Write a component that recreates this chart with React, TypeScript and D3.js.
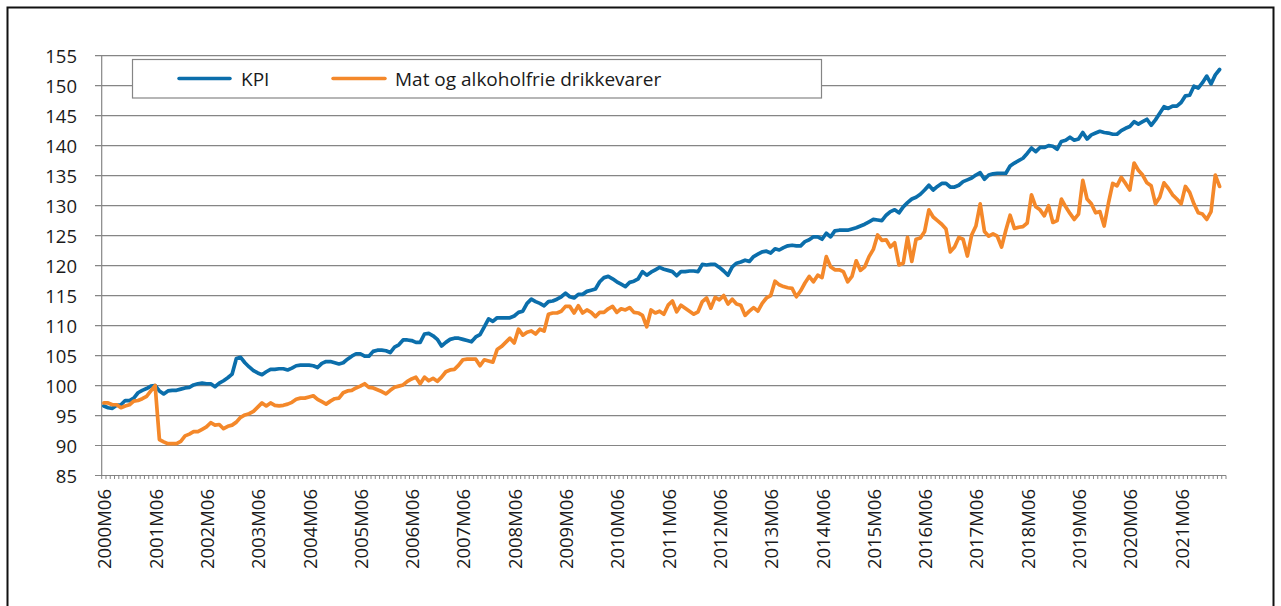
import React from 'react';
import * as d3 from 'd3';

// Monthly categories 2000M06 .. 2022M04 (axis categories)
const categories: string[] = (() => {
  const a: string[] = [];
  for (let k = 0; k < 263; k++) {
    const t = 5 + k;
    const yr = 2000 + Math.floor(t / 12);
    const m = (t % 12) + 1;
    a.push(`${yr}M${String(m).padStart(2, '0')}`);
  }
  return a;
})();

const tickLabels: string[] = [
  '2000M06', '2001M06', '2002M06', '2003M06', '2004M06', '2005M06', '2006M06', '2007M06',
  '2008M06', '2009M06', '2010M06', '2011M06', '2012M06', '2013M06', '2014M06', '2015M06',
  '2016M06', '2017M06', '2018M06', '2019M06', '2020M06', '2021M06',
];

const yTicks: number[] = [85, 90, 95, 100, 105, 110, 115, 120, 125, 130, 135, 140, 145, 150, 155];

const seriesNames: string[] = ['KPI', 'Mat og alkoholfrie drikkevarer'];

const kpi: number[] = [
  96.6, 96.3, 96.2, 96.7, 96.8, 97.5, 97.5, 97.9, 98.8, 99.2, 99.5, 99.9,
  100.0, 99.1, 98.6, 99.1, 99.2, 99.2, 99.4, 99.6, 99.7, 100.1, 100.3, 100.4,
  100.3, 100.3, 99.8, 100.4, 100.8, 101.3, 101.9, 104.5, 104.7, 103.8, 103.1, 102.5,
  102.1, 101.8, 102.3, 102.7, 102.7, 102.8, 102.8, 102.6, 102.9, 103.3, 103.4, 103.4,
  103.4, 103.3, 103.0, 103.7, 104.0, 104.0, 103.8, 103.6, 103.8, 104.4, 104.9, 105.3,
  105.3, 104.9, 104.9, 105.7, 105.9, 105.9, 105.8, 105.5, 106.4, 106.8, 107.6, 107.6,
  107.5, 107.2, 107.2, 108.6, 108.7, 108.3, 107.7, 106.6, 107.2, 107.7, 107.9, 107.9,
  107.7, 107.5, 107.3, 108.1, 108.5, 109.8, 111.1, 110.7, 111.3, 111.3, 111.3, 111.3,
  111.6, 112.2, 112.4, 113.7, 114.4, 114.0, 113.7, 113.3, 114.0, 114.1, 114.4, 114.8,
  115.4, 114.8, 114.6, 115.2, 115.2, 115.7, 115.9, 116.1, 117.3, 118.0, 118.2, 117.8,
  117.3, 116.9, 116.5, 117.2, 117.4, 117.8, 119.0, 118.4, 118.9, 119.3, 119.7, 119.4,
  119.2, 119.0, 118.3, 119.0, 119.0, 119.1, 119.1, 119.0, 120.2, 120.1, 120.2, 120.2,
  119.7, 119.1, 118.4, 119.8, 120.4, 120.6, 120.9, 120.7, 121.5, 121.9, 122.3, 122.4,
  122.1, 122.8, 122.6, 123.0, 123.3, 123.4, 123.3, 123.3, 124.0, 124.3, 124.8, 124.8,
  124.4, 125.4, 124.8, 125.8, 125.9, 125.9, 125.9, 126.1, 126.3, 126.6, 126.9, 127.3,
  127.7, 127.6, 127.5, 128.4, 129.0, 129.3, 128.8, 129.8, 130.5, 131.1, 131.4, 131.9,
  132.6, 133.4, 132.6, 133.2, 133.7, 133.7, 133.1, 133.1, 133.4, 134.0, 134.3, 134.6,
  135.1, 135.5, 134.4, 135.1, 135.3, 135.4, 135.4, 135.4, 136.6, 137.1, 137.5, 137.9,
  138.7, 139.6, 139.0, 139.7, 139.7, 140.0, 139.9, 139.4, 140.7, 140.9, 141.4, 140.9,
  141.1, 142.2, 141.1, 141.8, 142.1, 142.4, 142.2, 142.1, 141.9, 141.9, 142.5, 142.9,
  143.2, 144.0, 143.6, 144.0, 144.4, 143.4, 144.3, 145.4, 146.5, 146.2, 146.6, 146.6,
  147.2, 148.3, 148.4, 149.9, 149.6, 150.5, 151.6, 150.3, 151.8, 152.7,
];

const mat: number[] = [
  97.1, 97.1, 96.8, 96.8, 96.3, 96.6, 96.8, 97.4, 97.5, 97.8, 98.2, 99.1,
  100.0, 91.0, 90.6, 90.3, 90.3, 90.3, 90.7, 91.6, 91.9, 92.3, 92.3, 92.7,
  93.1, 93.8, 93.4, 93.5, 92.8, 93.2, 93.4, 93.9, 94.7, 95.1, 95.3, 95.7,
  96.4, 97.1, 96.6, 97.1, 96.7, 96.6, 96.7, 96.9, 97.2, 97.7, 97.9, 97.9,
  98.1, 98.3, 97.7, 97.3, 96.9, 97.4, 97.8, 97.9, 98.8, 99.1, 99.2, 99.6,
  99.9, 100.3, 99.7, 99.6, 99.3, 99.0, 98.6, 99.2, 99.7, 99.9, 100.1, 100.7,
  101.1, 101.4, 100.3, 101.4, 100.8, 101.2, 100.7, 101.4, 102.3, 102.6, 102.7, 103.4,
  104.3, 104.4, 104.4, 104.4, 103.3, 104.3, 104.1, 103.9, 106.0, 106.5, 107.2, 107.9,
  107.1, 109.4, 108.4, 108.9, 109.1, 108.6, 109.4, 109.1, 111.9, 112.1, 112.1, 112.4,
  113.2, 113.2, 112.1, 113.3, 112.1, 112.6, 112.2, 111.5, 112.2, 112.2, 112.8, 113.2,
  112.2, 112.8, 112.6, 113.0, 112.2, 112.1, 111.7, 109.8, 112.6, 112.1, 112.4, 111.9,
  113.4, 114.1, 112.3, 113.4, 112.9, 112.4, 111.9, 112.3, 114.0, 114.6, 112.9, 114.7,
  114.3, 115.0, 113.6, 114.4, 113.6, 113.4, 111.7, 112.4, 113.0, 112.4, 113.7, 114.6,
  115.0, 117.4, 116.8, 116.5, 116.3, 116.2, 114.8, 115.8, 117.1, 118.2, 117.3, 118.4,
  118.0, 121.5, 119.8, 119.3, 119.3, 119.0, 117.3, 118.2, 120.8, 119.2, 119.8, 121.5,
  122.7, 125.1, 124.2, 124.3, 123.1, 123.8, 120.1, 120.4, 124.7, 120.7, 124.4, 124.6,
  125.7, 129.3, 128.1, 127.5, 126.9, 126.1, 122.3, 123.1, 124.7, 124.4, 121.6, 125.1,
  126.6, 130.3, 125.7, 124.9, 125.3, 124.9, 123.1, 125.9, 128.4, 126.2, 126.4, 126.5,
  127.1, 131.8, 129.8, 129.3, 128.3, 130.0, 127.2, 127.5, 131.1, 129.8, 128.7, 127.7,
  128.6, 134.2, 131.1, 130.3, 128.8, 129.0, 126.6, 130.4, 133.7, 133.3, 134.7, 133.7,
  132.6, 137.1, 135.9, 135.1, 133.8, 133.3, 130.3, 131.4, 133.8, 132.9, 131.8, 131.1,
  130.3, 133.2, 132.2, 130.3, 128.8, 128.6, 127.7, 129.0, 135.1, 133.2,
];

const BLUE = '#0b6eab';
const ORANGE = '#f4882a';
const GRID = '#858585';
const FONT = '"Open Sans", sans-serif';

export default function App() {
  const left = 101.7;
  const right = 1226;
  const top = 55.7;
  const bottom = 475.5;

  const x = d3.scaleBand<string>().domain(categories).range([left, right]).padding(0);
  const bw = x.bandwidth();
  const cx = (c: string) => (x(c) as number) + bw / 2;
  const y = d3.scaleLinear().domain([85, 155]).range([bottom, top]);

  const line = d3
    .line<number>()
    .x((_, i) => cx(categories[i]))
    .y((d) => y(d));

  const series = [
    { name: seriesNames[0], values: kpi, color: BLUE },
    { name: seriesNames[1], values: mat, color: ORANGE },
  ];

  const legendY = 78.5;

  return (
    <svg
      width={1281}
      height={606}
      style={{ position: 'absolute', left: 0, top: 0, background: '#fff' }}
      fontFamily={FONT}
    >
      <rect x={0} y={0} width={1281} height={606} fill="#fff" />
      {/* outer frame */}
      <rect x={7.5} y={7.5} width={1266} height={640} fill="none" stroke="#111" strokeWidth={2} />

      {/* gridlines + y ticks */}
      {yTicks.map((v) => (
        <g key={v}>
          <line x1={95} x2={right} y1={y(v)} y2={y(v)} stroke={GRID} strokeWidth={1.2} />
          <text
            x={77}
            y={y(v)}
            textAnchor="end"
            dominantBaseline="central"
            fontSize={18.5}
            fill="#1a1a1a"
          >
            {v}
          </text>
        </g>
      ))}

      {/* y axis line */}
      <line x1={left} x2={left} y1={top} y2={bottom} stroke={GRID} strokeWidth={1.2} />

      {/* minor month ticks */}
      {categories.map((c) => (
        <line
          key={c}
          x1={(x(c) as number)}
          x2={(x(c) as number)}
          y1={bottom}
          y2={bottom + 3.5}
          stroke="#777"
          strokeWidth={0.9}
        />
      ))}
      <line x1={right} x2={right} y1={bottom} y2={bottom + 3.5} stroke="#777" strokeWidth={0.9} />

      {/* x labels */}
      {tickLabels.map((t) => (
        <text
          key={t}
          transform={`translate(${cx(t)},${489}) rotate(-90)`}
          textAnchor="end"
          dominantBaseline="central"
          fontSize={18.5}
          fill="#1a1a1a"
        >
          {t}
        </text>
      ))}

      {/* legend box */}
      <rect x={132.5} y={59.5} width={689} height={38.5} fill="#fff" stroke={GRID} strokeWidth={1.2} />
      <line x1={179} x2={230} y1={legendY} y2={legendY} stroke={BLUE} strokeWidth={3.5} strokeLinecap="round" />
      <text x={241} y={legendY} dominantBaseline="central" fontSize={19} fill="#1a1a1a">
        {series[0].name}
      </text>
      <line x1={333} x2={385} y1={legendY} y2={legendY} stroke={ORANGE} strokeWidth={3.5} strokeLinecap="round" />
      <text x={395} y={legendY} dominantBaseline="central" fontSize={19} fill="#1a1a1a">
        {series[1].name}
      </text>

      {/* series lines */}
      {series.map((s) => (
        <path
          key={s.name}
          d={line(s.values) || ''}
          fill="none"
          stroke={s.color}
          strokeWidth={3.7}
          strokeLinejoin="round"
          strokeLinecap="round"
        />
      ))}
    </svg>
  );
}
